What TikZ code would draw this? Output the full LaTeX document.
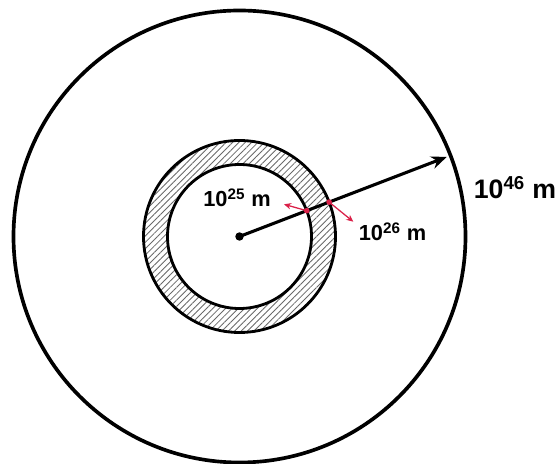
\documentclass[tikz,border=0pt]{standalone}
\usepackage{fontspec}
\setmainfont{Liberation Sans}
\usepackage{xcolor}
\usetikzlibrary{arrows.meta, patterns.meta}
\definecolor{dimred}{RGB}{218,32,72}
\definecolor{hatchgray}{RGB}{105,105,105}
\tikzset{
  rim/.style={draw, line width=2.6pt},
  shell/.style={draw, line width=2pt},
  hatched/.style={pattern={Lines[angle=45, distance=3.2pt, line width=0.6pt]},
    pattern color=hatchgray, even odd rule},
  radiusarrow/.style={-{Stealth[length=11pt, width=9pt]}, line width=2.2pt},
  dimarrow/.style={-{Stealth[length=5pt, width=4.5pt]}, line width=0.9pt, color=dimred},
  dimdot/.style={circle, fill=dimred, inner sep=0pt, minimum size=4pt},
  hubdot/.style={circle, fill=black, inner sep=0pt, minimum size=6pt},
  sizelabel/.style={font=\bfseries\fontsize{15.5}{15.5}\selectfont, inner sep=0pt},
  biglabel/.style={font=\bfseries\fontsize{19}{19}\selectfont, inner sep=0pt},
}

\begin{document}
\begin{tikzpicture}[x=0.025cm, y=0.025cm]
  \useasboundingbox (-239.5,-227.5) rectangle (316.5,236.5);
  \draw[rim] (0,0) circle (226);
  \fill[hatched] (0,0) circle (96) (0,0) circle (72);
  \draw[shell] (0,0) circle (96);
  \draw[shell] (0,0) circle (72);
  \node[hubdot] (hub) at (0,0) {};
  \coordinate (rimpt) at (21:222);
  \draw[radiusarrow] (hub.center) -- (rimpt);
  \node[dimdot] (innerpt) at (21:72) {};
  \node[dimdot] (outerpt) at (21:96) {};
  \coordinate (innerend) at (44.5,32.2);
  \coordinate (outerend) at (113.8,14.8);
  \draw[dimarrow] (innerpt.center) -- (innerend);
  \draw[dimarrow] (outerpt.center) -- (outerend);
  \node[sizelabel] (lab25) at (-2.5,39) {10\textsuperscript{25} m};
  \node[sizelabel] (lab26) at (153,4.5) {10\textsuperscript{26} m};
  \node[biglabel, anchor=west] (lab46) at (234,49) {10\textsuperscript{46} m};
\end{tikzpicture}
\end{document}
